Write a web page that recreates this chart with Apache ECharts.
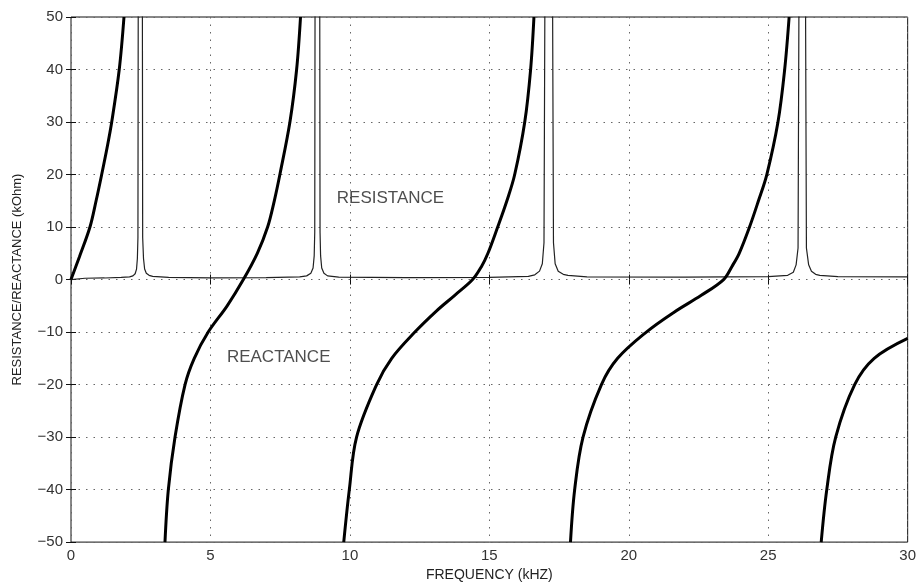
<!DOCTYPE html>
<html lang="en">
<head>
    <meta charset="UTF-8">
    <title>Resistance / Reactance</title>
    <script type="text/javascript" src="https://cdn.jsdelivr.net/npm/echarts@6/dist/echarts.min.js"></script>
    <style>
        html, body { margin: 0; padding: 0; background: #fff; }
    </style>
</head>
<body>
    <div id="main" style="width: 919px; height: 587px;"></div>
    <script type="text/javascript">

// thick curve: reactance, one array per branch [freq kHz, kOhm]
var reactance1 = [[0, 0], [0.3, 4.3], [0.68, 10], [0.9, 15], [1.1, 20], [1.29, 25], [1.46, 30], [1.73, 40], [1.9, 50]];
var reactance2 = [[3.37, -50], [3.49, -40], [3.73, -30], [4.09, -20], [4.42, -15], [4.92, -10], [5.6, -5], [6.18, 0],
    [6.68, 5], [7.05, 10], [7.29, 15], [7.49, 20], [7.85, 30], [8.09, 40], [8.23, 50]];
var reactance3 = [[9.78, -50], [9.98, -40], [10.24, -30], [10.96, -20], [11.5, -15], [12.33, -10], [13.1, -6], [13.76, -3],
    [14.4, 0], [14.72, 2.5], [14.95, 5], [15.3, 10], [15.63, 15], [15.91, 20], [16.27, 30], [16.48, 40], [16.6, 50]];
var reactance4 = [[17.91, -50], [18.06, -40], [18.36, -30], [19.02, -20], [19.6, -15], [20.63, -10], [21.6, -6.3], [22.6, -3],
    [23.4, 0], [23.7, 2.5], [23.96, 5], [24.33, 10], [24.65, 15], [24.95, 20], [25.35, 30], [25.59, 40], [25.75, 50]];
var reactance5 = [[26.9, -50], [27.1, -40], [27.42, -30], [28.1, -20], [28.8, -15], [30, -11.2]];

// thin curve: resistance, sharp peaks clipped by the 50 limit
var resistance = [[0, 0], [0.5, 0.25], [1.2, 0.3], [1.8, 0.4], [2.1, 0.5], [2.22, 0.7], [2.3, 1.1], [2.35, 2], [2.38, 4],
    [2.4, 8], [2.41, 50], [2.485, 400], [2.56, 50], [2.57, 8], [2.6, 4], [2.64, 2], [2.7, 1.2], [2.8, 0.8], [2.93, 0.6],
    [3.5, 0.4], [5, 0.3], [7, 0.35], [8.2, 0.5], [8.45, 0.7], [8.6, 1.2], [8.68, 2.2], [8.72, 4.5], [8.74, 9],
    [8.75, 50], [8.835, 400], [8.92, 50], [8.93, 9], [8.95, 4.5], [8.99, 2.2], [9.07, 1.2], [9.2, 0.7], [9.6, 0.45],
    [12, 0.35], [15, 0.4], [16.4, 0.6], [16.63, 0.9], [16.8, 1.6], [16.9, 3], [16.96, 7], [16.99, 50],
    [17.13, 400], [17.27, 50], [17.3, 7], [17.36, 3], [17.47, 1.6], [17.65, 1], [17.82, 0.8], [18.5, 0.5],
    [22, 0.45], [25, 0.55], [25.7, 0.8], [25.9, 1.4], [26.0, 2.8], [26.07, 6], [26.1, 50], [26.22, 400],
    [26.34, 50], [26.37, 6], [26.45, 2.8], [26.55, 1.6], [26.7, 1], [26.85, 0.8], [27.5, 0.55], [30, 0.5]];

var xTicks = [0, 5, 10, 15, 20, 25, 30];
var yTicks = [-50, -40, -30, -20, -10, 0, 10, 20, 30, 40, 50];

var annotationText = ['RESISTANCE', 'REACTANCE'];
var annotationPos = [[9.53, 15.4], [5.59, -14.8]];

var chartDom = document.getElementById('main');
var myChart = echarts.init(chartDom);
var option;

var font = 'Liberation Sans, Arial, Helvetica, sans-serif';
var dotted = { color: '#666', type: [1.5, 6], width: 1 };

function minus(v) {
    return v < 0 ? '\u2212' + Math.abs(v) : String(v);
}

function branch(data) {
    return {
        type: 'line',
        data: data,
        smooth: 0.35,
        showSymbol: false,
        silent: true,
        lineStyle: { color: '#000', width: 3 },
        z: 4
    };
}

option = {
    animation: false,
    backgroundColor: '#fff',
    grid: {
        left: 71, right: 11, top: 17, bottom: 37,
        show: true, borderColor: '#111', borderWidth: 1
    },
    xAxis: [{
        type: 'value',
        min: xTicks[0], max: xTicks[xTicks.length - 1], interval: 5,
        name: 'FREQUENCY (kHZ)',
        nameLocation: 'middle',
        nameGap: 22,
        nameTextStyle: { fontFamily: font, fontSize: 14, color: '#222' },
        axisLine: { show: false },
        axisTick: { inside: true, length: 5, lineStyle: { color: '#111' } },
        axisLabel: { fontFamily: font, fontSize: 15, color: '#333', margin: 6, formatter: minus },
        splitLine: { show: true, lineStyle: dotted }
    }, {
        type: 'value', position: 'top',
        min: xTicks[0], max: xTicks[xTicks.length - 1], interval: 5,
        axisLine: { show: false },
        axisTick: { inside: true, length: 5, lineStyle: { color: '#111' } },
        axisLabel: { show: false },
        splitLine: { show: false }
    }],
    yAxis: [{
        type: 'value',
        min: yTicks[0], max: yTicks[yTicks.length - 1], interval: 10,
        name: 'RESISTANCE/REACTANCE (kOhm)',
        nameLocation: 'middle',
        nameGap: 47,
        nameTextStyle: { fontFamily: font, fontSize: 13, color: '#222' },
        axisLine: { show: false },
        axisTick: { inside: true, length: 5, lineStyle: { color: '#111' } },
        axisLabel: { fontFamily: font, fontSize: 15, color: '#333', margin: 8, formatter: minus },
        splitLine: { show: true, lineStyle: dotted }
    }, {
        type: 'value', position: 'right',
        min: yTicks[0], max: yTicks[yTicks.length - 1], interval: 10,
        axisLine: { show: false },
        axisTick: { inside: true, length: 5, lineStyle: { color: '#111' } },
        axisLabel: { show: false },
        splitLine: { show: false }
    }],
    series: [
        {
            name: 'Resistance',
            type: 'line',
            data: resistance,
            showSymbol: false,
            silent: true,
            lineStyle: { color: '#222', width: 1.2 },
            z: 3
        },
        branch(reactance1),
        branch(reactance2),
        branch(reactance3),
        branch(reactance4),
        branch(reactance5),
        {
            type: 'scatter',
            symbolSize: 0,
            silent: true,
            data: annotationPos.map(function (p, i) {
                return { value: p, name: annotationText[i] };
            }),
            label: {
                show: true,
                position: 'right',
                distance: 0,
                formatter: '{b}',
                fontFamily: font,
                fontSize: 17,
                color: '#222'
            },
            z: 5
        }
    ]
};

option && myChart.setOption(option);
    </script>
</body>
</html>
